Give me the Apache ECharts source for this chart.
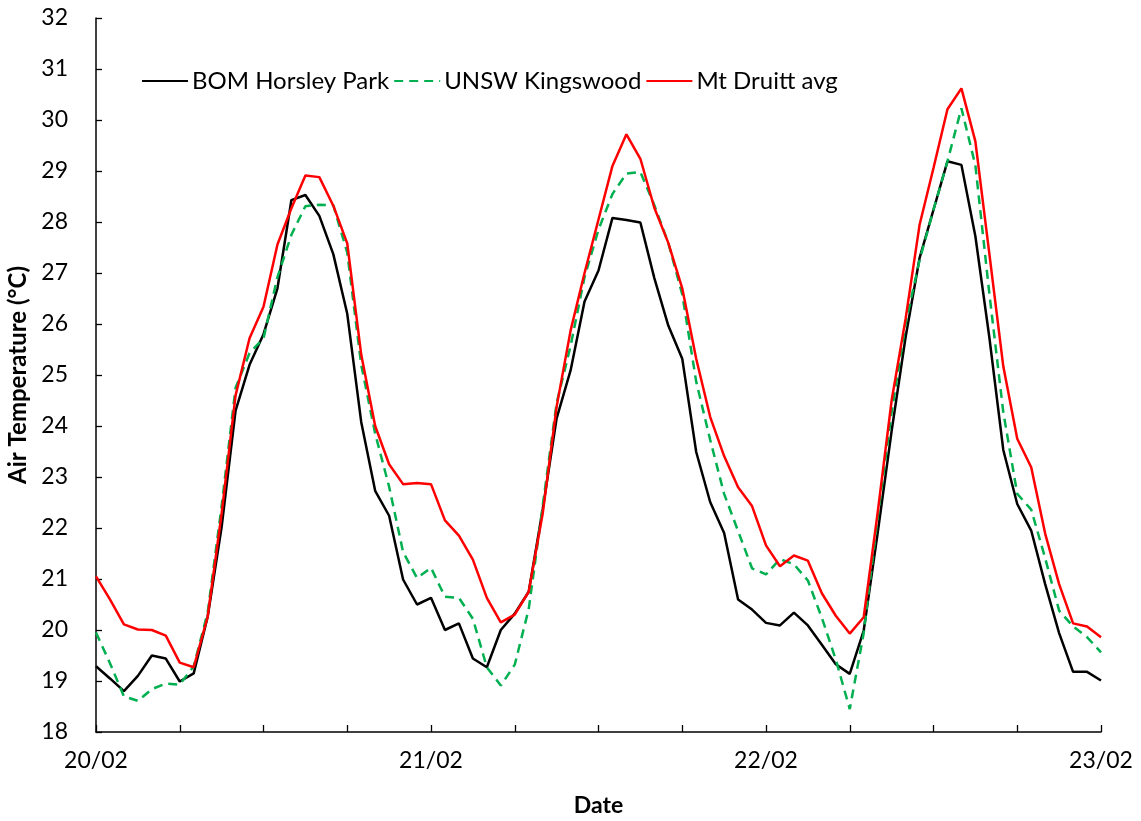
<!DOCTYPE html>
<html>
<head>
<meta charset="utf-8">
<script src="https://cdn.jsdelivr.net/npm/echarts@6/dist/echarts.min.js"></script>
<style>html,body{margin:0;padding:0;background:#fff;}#c{width:1141px;height:821px;}</style>
</head>
<body>
<div id="c"></div>
<script>
// hours since 20/02 00:00
const dayLabels = ['20/02', '21/02', '22/02', '23/02'];
const seriesNames = ['BOM Horsley Park', 'UNSW Kingswood', 'Mt Druitt avg'];
const bomHorsleyPark = [
  19.29, 19.05, 18.80, 19.10, 19.50, 19.44, 18.99, 19.15, 20.26, 22.02, 24.30, 25.20, 25.80, 26.70, 28.43, 28.53, 28.12, 27.37, 26.20,
  24.08, 22.73, 22.24, 20.99, 20.50, 20.63, 20.00, 20.13, 19.44, 19.27, 20.00, 20.32, 20.75, 22.36, 24.15, 25.09, 26.44,
  27.05, 28.08, 28.04, 27.99, 26.90, 25.97, 25.32, 23.49, 22.51, 21.90, 20.60, 20.40, 20.14, 20.09, 20.34, 20.09, 19.71, 19.33, 19.14,
  19.99, 21.90, 23.90, 25.74, 27.29, 28.24, 29.19, 29.12, 27.72, 25.74, 23.53, 22.47, 21.95, 20.90, 19.94, 19.18, 19.18, 19.01
];
const unswKingswood = [
  19.95, 19.35, 18.70, 18.61, 18.84, 18.95, 18.93, 19.29, 20.34, 22.43, 24.75, 25.43, 25.72, 26.92, 27.75, 28.31, 28.34, 28.33, 27.40,
  25.20, 23.85, 22.81, 21.53, 21.02, 21.22, 20.65, 20.63, 20.22, 19.27, 18.91, 19.32, 20.41, 22.43, 24.45, 25.57, 26.92,
  27.85, 28.55, 28.95, 28.98, 28.33, 27.59, 26.58, 24.87, 23.73, 22.67, 21.94, 21.21, 21.09, 21.39, 21.29, 20.97, 20.24, 19.42, 18.45,
  19.94, 22.20, 24.27, 26.00, 27.25, 28.24, 29.19, 30.23, 29.11, 26.60, 24.27, 22.67, 22.36, 21.41, 20.38, 20.07, 19.86, 19.56
];
const mtDruittAvg = [
  21.05, 20.60, 20.11, 20.01, 20.00, 19.89, 19.36, 19.27, 20.26, 22.28, 24.60, 25.72, 26.34, 27.56, 28.27, 28.91, 28.88, 28.32, 27.58,
  25.40, 24.00, 23.25, 22.86, 22.88, 22.86, 22.15, 21.85, 21.38, 20.63, 20.15, 20.30, 20.75, 22.28, 24.38, 25.87, 27.00,
  28.05, 29.10, 29.72, 29.24, 28.28, 27.59, 26.70, 25.32, 24.18, 23.41, 22.80, 22.43, 21.66, 21.25, 21.46, 21.36, 20.72, 20.28, 19.93,
  20.25, 22.30, 24.50, 26.10, 27.94, 29.06, 30.21, 30.62, 29.58, 27.38, 25.17, 23.75, 23.19, 21.89, 20.90, 20.13, 20.07, 19.86
];

const toPairs = arr => arr.map((v, i) => [i, v]);
const FONT = "Lato, 'Open Sans', sans-serif";

const chart = echarts.init(document.getElementById('c'), null, {renderer: 'canvas'});
chart.setOption({
  animation: false,
  backgroundColor: '#ffffff',
  textStyle: {fontFamily: FONT},
  grid: {left: 96, right: 40, top: 18, bottom: 89, containLabel: false, outerBoundsMode: 'none'},
  legend: {
    left: 136, top: 64,
    itemWidth: 46, itemHeight: 14, itemGap: 4,
    itemStyle: {opacity: 0},
    textStyle: {fontFamily: FONT, fontSize: 24, color: '#000', padding: [0, 0, 0, -1]},
    data: seriesNames
  },
  xAxis: {
    type: 'value', min: 0, max: 72, interval: 6,
    axisLine: {lineStyle: {color: '#000', width: 1.5}},
    axisTick: {inside: true, length: 7, lineStyle: {color: '#000', width: 1.3}},
    splitLine: {show: false},
    axisLabel: {
      fontFamily: FONT, fontSize: 23, color: '#000', margin: 17,
      formatter: v => (v % 24 === 0 ? dayLabels[v / 24] : '')
    },
    name: 'Date', nameLocation: 'middle', nameGap: 62,
    nameTextStyle: {fontFamily: FONT, fontSize: 23, fontWeight: 'bold', color: '#000'}
  },
  yAxis: {
    type: 'value', min: 18, max: 32, interval: 1,
    axisLine: {show: true, lineStyle: {color: '#000', width: 1.5}},
    axisTick: {show: true, inside: true, length: 6, lineStyle: {color: '#000', width: 1.3}},
    splitLine: {show: false},
    axisLabel: {fontFamily: FONT, fontSize: 23, color: '#000', margin: 28},
    name: 'Air Temperature (°C)', nameLocation: 'middle', nameRotate: 90, nameGap: 64,
    nameTextStyle: {fontFamily: FONT, fontSize: 24, fontWeight: 'bold', color: '#000'}
  },
  series: [
    {name: seriesNames[0], type: 'line', symbol: 'none', data: toPairs(bomHorsleyPark),
     lineStyle: {color: '#000000', width: 2.5}, itemStyle: {color: '#000000'}},
    {name: seriesNames[1], type: 'line', symbol: 'none', data: toPairs(unswKingswood),
     lineStyle: {color: '#00b050', width: 2.5, type: [9, 6]}, itemStyle: {color: '#00b050'}},
    {name: seriesNames[2], type: 'line', symbol: 'none', data: toPairs(mtDruittAvg),
     lineStyle: {color: '#ff0000', width: 2.5}, itemStyle: {color: '#ff0000'}}
  ]
});
</script>
</body>
</html>
